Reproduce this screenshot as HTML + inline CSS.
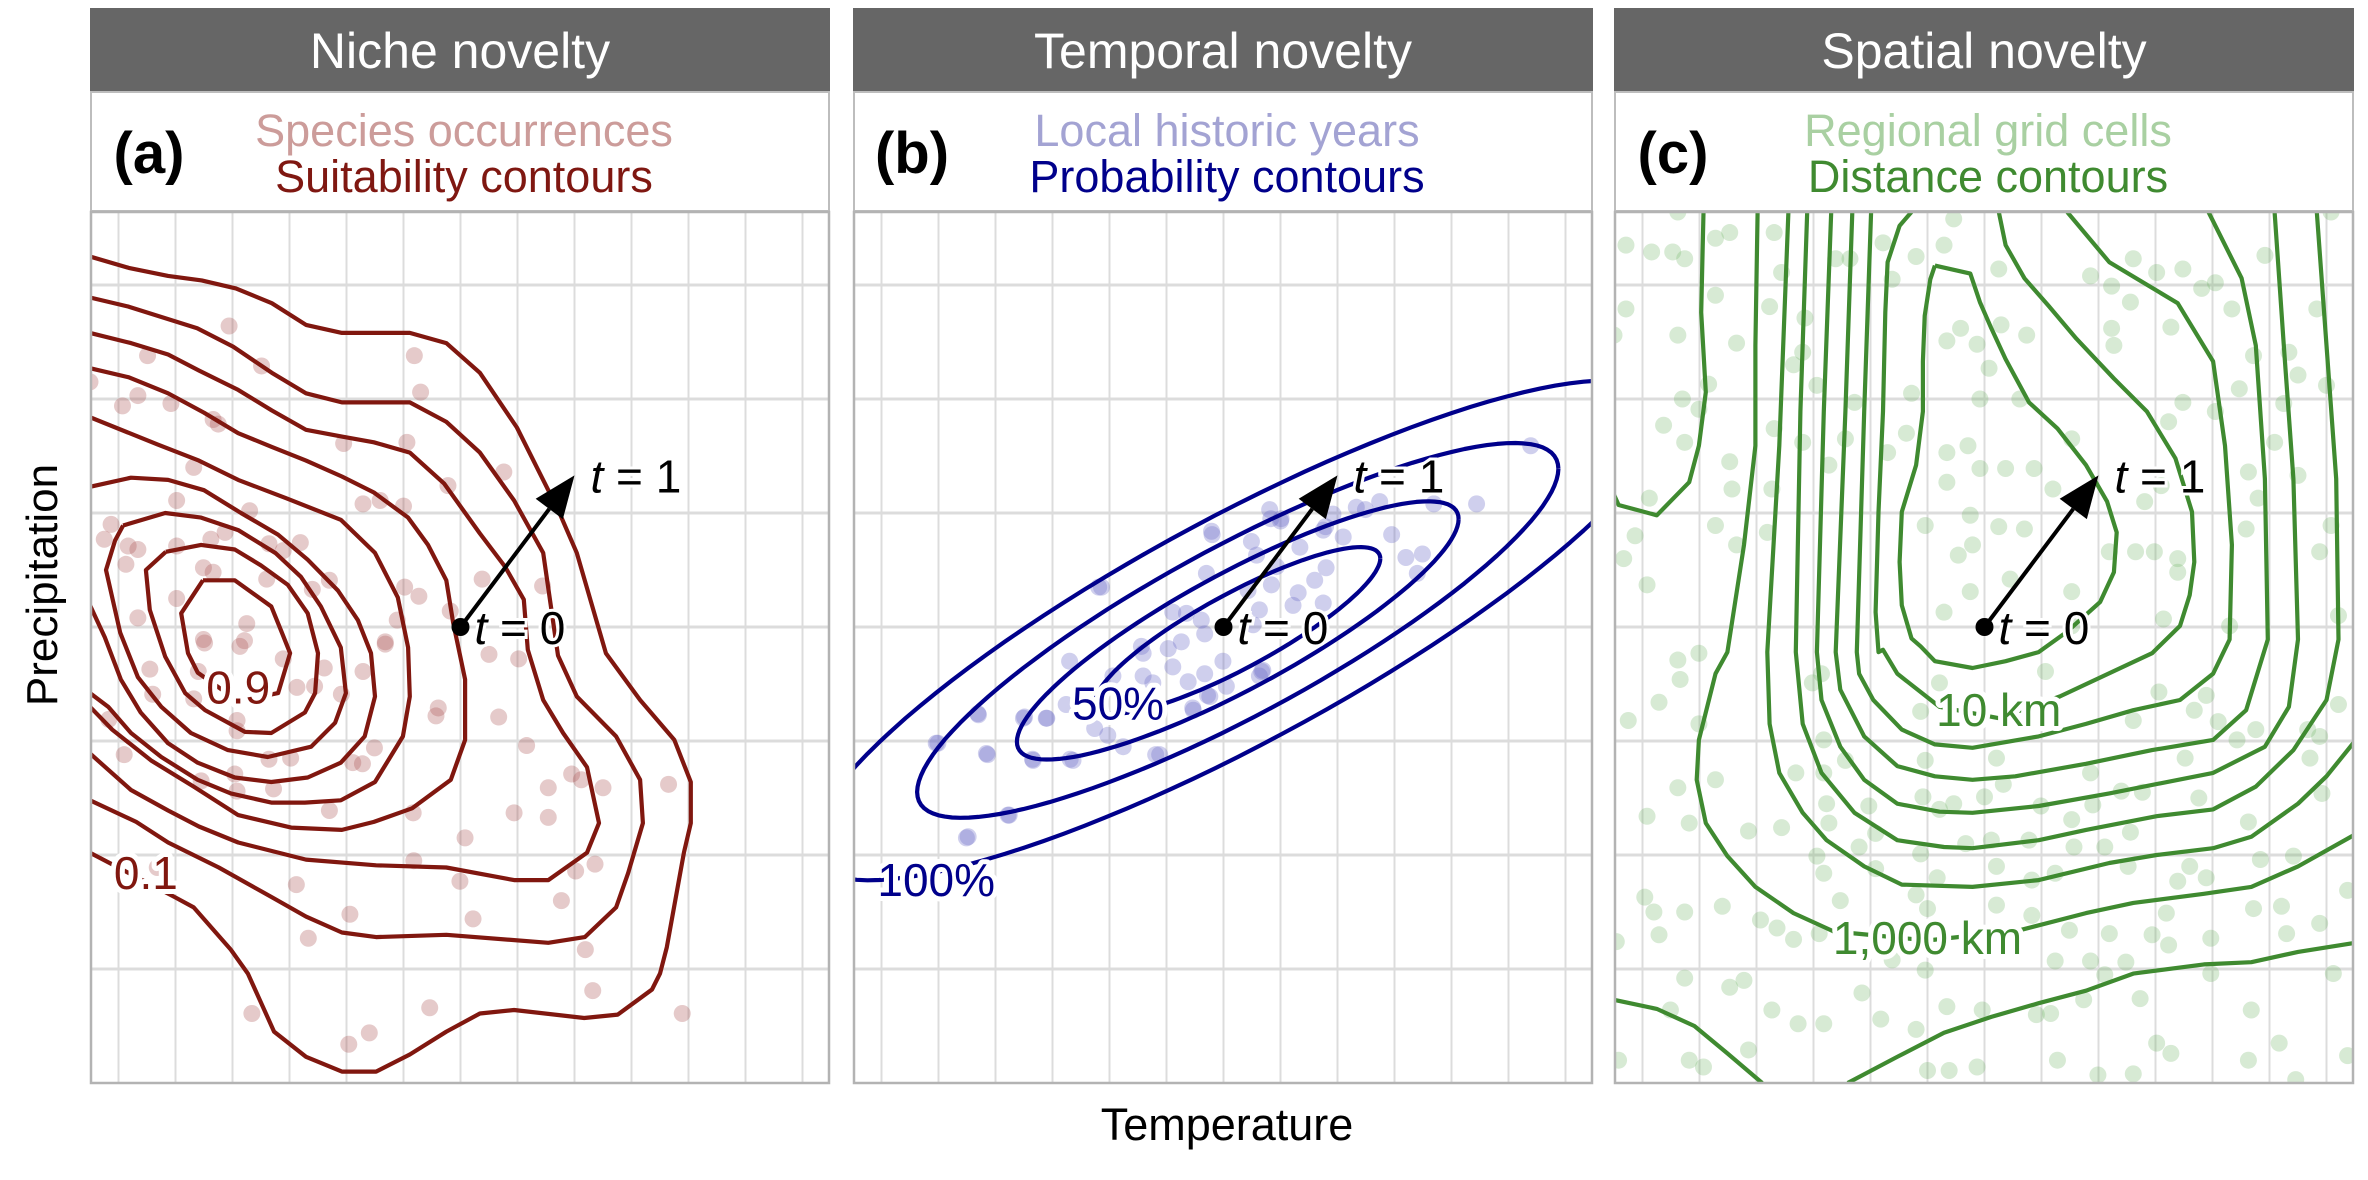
<!DOCTYPE html>
<html><head><meta charset="utf-8"><title>Niche, temporal and spatial novelty</title>
<style>
html,body{margin:0;padding:0;background:#fff;}
svg{display:block;font-family:"Liberation Sans",Arial,sans-serif;}
</style></head>
<body>
<svg id="fig" width="2368" height="1180" viewBox="0 0 2368 1180" xmlns="http://www.w3.org/2000/svg">
<text x="1227" y="1140" font-size="45" text-anchor="middle" fill="#000">Temperature</text>
<text transform="translate(57,585) rotate(-90)" font-size="44" text-anchor="middle" fill="#000">Precipitation</text>
</svg>
<script>
// ---------- Panel (a): niche novelty data ----------
const nicheLevels = ["0.1","0.2","0.3","0.4","0.5","0.6","0.7","0.8","0.9"];
const nicheC1 = [[0,7.25],[0.68,7.15],[1.37,7.08],[1.96,7.04],[2.56,6.97],[3.19,6.84],[3.79,6.65],[4.42,6.58],[5.61,6.58],[6.25,6.49],[6.84,6.23],[7.49,5.75],[7.86,5.38],[8.21,5.03],[8.54,4.65],[9.05,3.77],[9.65,3.36],[10.25,3.01],[10.54,2.64],[10.54,2.28],[10.42,2.02],[10.12,1.19],[10.0,0.96],[9.86,0.82],[9.26,0.60],[8.67,0.57],[7.44,0.64],[6.84,0.61],[6.25,0.45],[5.61,0.25],[5.02,0.10],[4.42,0.10],[3.79,0.23],[3.23,0.45],[2.77,0.96],[2.47,1.17],[1.82,1.54],[1.49,1.63],[0,2.02]];
const nicheC2 = [[0,6.89],[0.68,6.81],[1.88,6.62],[2.51,6.46],[3.19,6.23],[3.79,6.05],[4.42,5.97],[5.61,5.97],[6.25,5.80],[6.84,5.53],[7.44,5.11],[7.95,4.65],[8.21,3.75],[8.54,3.39],[9.23,3.04],[9.65,2.66],[9.70,2.28],[9.44,1.84],[9.23,1.54],[8.68,1.28],[8.04,1.23],[6.25,1.30],[5.02,1.28],[4.42,1.32],[3.79,1.46],[3.19,1.63],[2.26,1.89],[1.37,2.11],[0.81,2.29],[0,2.48]];
const nicheC3 = [[0,6.58],[0.72,6.49],[1.37,6.39],[1.91,6.25],[2.60,6.08],[3.19,5.90],[3.79,5.73],[4.42,5.67],[4.98,5.62],[5.61,5.53],[6.21,5.26],[6.84,4.82],[7.28,4.53],[7.61,4.24],[7.68,3.80],[7.95,3.36],[8.30,3.07],[8.72,2.77],[8.93,2.28],[8.72,2.02],[8.04,1.78],[7.44,1.78],[6.25,1.89],[5.02,1.91],[3.79,1.96],[2.60,2.11],[1.91,2.25],[1.37,2.39],[0.72,2.57],[0,2.89]];
const nicheC4 = [[0,6.27],[0.68,6.19],[1.37,6.05],[2.0,5.88],[2.60,5.70],[3.19,5.58],[3.79,5.46],[4.42,5.32],[4.98,5.18],[5.58,4.96],[5.93,4.72],[6.25,4.41],[6.37,4.04],[6.58,3.54],[6.58,3.01],[6.33,2.66],[5.65,2.41],[4.98,2.29],[4.42,2.22],[3.53,2.24],[2.60,2.35],[1.82,2.60],[1.07,2.83],[0.39,3.10],[0,3.30]];
const nicheC5 = [[0,5.84],[1.19,5.60],[1.91,5.46],[2.60,5.29],[3.44,5.13],[4.40,4.94],[5.0,4.65],[5.40,4.26],[5.58,3.82],[5.61,3.39],[5.49,3.04],[5.0,2.64],[4.40,2.48],[3.77,2.46],[3.18,2.46],[2.47,2.54],[1.89,2.66],[1.25,2.86],[0.72,3.07],[0.32,3.30],[0,3.42]];
const nicheC6 = [[0,5.23],[0.72,5.31],[1.37,5.29],[2.0,5.20],[2.65,5.0],[3.30,4.81],[3.82,4.59],[4.35,4.32],[4.70,4.06],[4.93,3.77],[5.0,3.39],[4.82,3.04],[4.40,2.81],[3.82,2.68],[3.18,2.64],[2.54,2.68],[1.89,2.81],[1.37,2.98],[0.89,3.25],[0.54,3.54],[0.26,3.91],[0,4.19]];
const nicheC7 = [[0.58,4.89],[1.32,5.0],[1.95,4.96],[2.60,4.85],[3.25,4.65],[3.70,4.44],[4.05,4.18],[4.40,3.82],[4.49,3.42],[4.30,3.16],[3.88,2.95],[3.12,2.86],[2.42,2.92],[1.77,3.07],[1.25,3.30],[0.84,3.56],[0.53,3.95],[0.28,4.50],[0.44,4.76],[0.58,4.89]];
const nicheC8 = [[1.33,4.66],[1.95,4.72],[2.54,4.68],[3.0,4.54],[3.47,4.37],[3.82,4.12],[4.0,3.77],[3.95,3.42],[3.77,3.25],[3.18,3.07],[2.72,3.08],[2.02,3.27],[1.67,3.42],[1.32,3.74],[1.05,4.15],[0.98,4.50],[1.33,4.66]];
const nicheC9 = [[1.98,4.41],[2.54,4.41],[3.18,4.18],[3.35,3.97],[3.51,3.77],[3.30,3.42],[2.6,3.35],[1.89,3.60],[1.72,3.77],[1.60,4.12],[1.98,4.41]];
const nicheLabelText = ["0.1","0.9"];
const nicheLabelX = [0.98,2.6];
const nicheLabelY = [1.84,3.47];
const nichePtsX = [2.44,5.69,1.01,3.01,5.80,0.84,0.57,1.42,2.16,2.25,4.45,5.56,1.82,7.26,6.28,4.79,5.09,5.5,1.52,2.80,0.37,0.25,0.67,0.84,0.63,2.12,2.37,1.52,3.14,3.39,3.69,1.99,2.16,3.10,4.20,3.90,5.52,5.77,6.88,7.94,1.52,0.84,0,2.75,5.39,6.32,5.18,1.99,2.71,2.01,2.63,3.39,4.11,4.79,5.18,7.0,7.52,1.05,1.90,1.10,1.82,2.58,2.58,3.63,3.94,4.41,6.11,6.07,7.17,0.33,0.60,4.99,4.78,4.61,3.52,3.14,1.95,2.54,3.22,2.58,4.20,5.67,7.66,8.45,8.62,8.04,9.0,10.15,7.44,8.04,6.58,5.68,8.86,8.52,6.49,3.62,8.27,1.18,4.56,6.72,3.83,8.69,8.82,10.39,5.96,2.84,4.90,4.54];
const nichePtsY = [6.64,6.38,6.38,6.29,6.06,6.03,5.94,5.96,5.82,5.78,5.61,5.62,5.40,5.36,5.24,5.08,5.11,5.06,5.11,5.02,4.90,4.77,4.71,4.68,4.55,4.77,4.83,4.71,4.73,4.67,4.74,4.52,4.48,4.42,4.41,4.33,4.35,4.27,4.42,4.36,4.25,4.08,6.15,4.03,4.06,4.14,3.87,3.89,3.88,3.86,3.83,3.72,3.64,3.61,3.85,3.76,3.72,3.63,3.61,3.41,3.37,3.18,3.09,3.47,3.48,3.41,3.29,3.22,3.21,3.19,2.88,2.94,2.80,2.81,2.85,2.84,2.65,2.71,2.58,2.56,2.39,2.37,2.96,2.71,2.66,2.59,2.59,2.62,2.37,2.33,2.15,1.95,1.92,1.86,1.77,1.74,1.60,1.89,1.48,1.44,1.27,1.17,0.81,0.61,0.66,0.61,0.44,0.34];

// ---------- Panel (b): temporal novelty data ----------
const probLevels = ["50%","75%","90%","100%"];
const probRadii = [1,1.55,2.25,3.0];
const probCenter = [6.75,3.97];
const probAxisU = [2.5,0.63];
const probAxisV = [0,0.37];
const probLabelText = ["50%","100%"];
const probLabelX = [4.65,1.46];
const probLabelY = [3.33,1.78];
const yearPtsX = [4.36,6.29,6.20,6.99,7.08,7.31,7.51,7.43,7.34,6.93,7.84,8.30,8.10,7.81,7.72,8.25,8.42,8.25,8.60,7.02,7.13,5.61,5.85,6.11,6.17,5.76,5.53,5.06,5.09,6.49,5.61,6.17,5.88,6.55,6.26,5.96,7.19,3.80,4.56,5.09,5.26,3.74,3.39,3.01,2.19,1.46,2.34,3.16,3.86,4.24,4.47,4.74,5.38,2.72,2.02,11.89,10.94,10.19,9.70,9.99,9.90,9.45,9.24,8.99,8.83,8.29,7.33,7.50,6.30,7.17,7.13,6.22,5.97,5.31,4.31,2.74,1.99,1.49,2.20,2.36,2.99,3.40,3.81,3.15];
const yearPtsY = [4.35,4.84,4.47,4.75,4.63,5.03,4.95,4.53,4.37,4.32,4.70,4.52,4.41,4.30,4.19,4.21,4.99,4.85,4.79,4.02,4.15,4.13,4.12,4.06,3.94,3.87,3.81,3.83,3.77,3.70,3.65,3.59,3.52,3.48,3.39,3.29,3.62,3.70,3.57,3.57,3.51,3.32,3.20,3.21,3.24,2.98,2.89,2.83,2.83,3.11,3.05,2.95,2.88,2.35,2.16,5.59,5.08,5.08,4.61,4.64,4.47,4.81,5.10,5.03,5.05,4.88,4.95,4.93,4.81,3.61,3.57,3.40,3.27,2.88,4.35,2.35,2.15,2.98,3.23,2.88,3.20,3.20,2.84,2.84];

// ---------- Panel (c): spatial novelty data ----------
const distK0 = [[1.57,7.64],[1.53,6.76],[1.61,6.06],[1.49,5.59],[1.32,5.27],[0.75,4.98],[0.08,5.07],[0,5.16]];
const distK1 = [[5.63,7.17],[6.25,7.10],[6.42,6.85],[6.62,6.62],[6.87,6.35],[7.28,5.97],[7.78,5.74],[8.28,5.42],[8.65,5.10],[8.82,4.83],[8.77,4.48],[8.53,4.22],[7.95,3.96],[7.45,3.78],[6.87,3.70],[6.29,3.64],[5.63,3.70],[5.38,3.83],[5.22,3.90],[5.05,4.19],[5.01,4.57],[5.05,5.01],[5.30,5.42],[5.42,5.89],[5.42,6.33],[5.45,6.73],[5.55,7.05],[5.63,7.17]];
const distK2 = [[5.22,7.64],[5.01,7.52],[4.80,7.20],[4.76,6.76],[4.72,5.89],[4.64,5.01],[4.59,4.13],[4.64,3.78],[4.72,3.80],[4.97,3.59],[5.71,3.30],[6.75,3.20],[7.82,3.39],[9.44,3.77],[9.93,4.01],[10.10,4.28],[10.18,4.57],[10.14,5.01],[9.85,5.48],[9.35,5.89],[8.77,6.18],[8.11,6.53],[7.62,6.82],[7.20,7.06],[6.87,7.35],[6.75,7.64]];
const distK3 = [[4.51,7.64],[4.39,5.89],[4.26,3.78],[4.30,3.59],[4.55,3.36],[5.05,3.10],[5.63,2.97],[6.29,2.94],[7.45,3.04],[8.28,3.15],[9.11,3.27],[9.93,3.36],[10.51,3.59],[10.80,3.89],[10.84,4.72],[10.72,5.59],[10.51,6.33],[9.89,6.84],[8.69,7.20],[7.95,7.64]];
const distK4 = [[4.18,7.64],[4.06,5.89],[3.89,3.78],[3.97,3.45],[4.39,3.04],[4.97,2.78],[5.63,2.69],[6.29,2.66],[7.04,2.69],[8.28,2.80],[9.44,2.92],[10.51,3.01],[11.09,3.27],[11.47,3.89],[11.42,5.30],[11.26,6.47],[11.01,7.06],[10.43,7.64]];
const distK5 = [[3.81,7.64],[3.68,5.89],[3.56,3.78],[3.64,3.36],[3.97,2.95],[4.39,2.66],[4.97,2.45],[5.71,2.38],[6.29,2.37],[7.45,2.43],[8.69,2.54],[10.51,2.72],[11.42,2.95],[11.84,3.30],[12.0,3.89],[11.92,5.30],[11.75,6.47],[11.59,7.64]];
const distK6 = [[3.39,7.64],[3.27,5.89],[3.19,3.78],[3.31,3.15],[3.64,2.72],[4.22,2.37],[4.97,2.13],[5.79,2.07],[6.29,2.06],[7.45,2.13],[8.28,2.22],[9.52,2.34],[10.51,2.40],[11.26,2.60],[11.92,2.92],[12.5,3.36],[12.71,3.89],[12.67,5.30],[12.5,6.47],[12.33,7.64]];
const distK7 = [[3.06,7.64],[2.90,5.59],[2.69,3.78],[2.73,3.15],[2.90,2.72],[3.31,2.37],[3.73,2.13],[4.39,1.90],[5.05,1.74],[6.29,1.72],[7.45,1.78],[8.69,1.93],[9.52,2.00],[10.51,2.06],[11.18,2.16],[12.0,2.45],[12.5,2.69],[13.0,3.0]];
const distK8 = [[2.52,7.64],[2.48,6.47],[2.48,5.59],[2.28,4.72],[1.99,3.78],[1.78,3.59],[1.49,3.01],[1.45,2.66],[1.61,2.28],[1.99,1.99],[2.48,1.72],[3.15,1.49],[3.85,1.33],[5.5,1.25],[7.12,1.34],[8.28,1.49],[9.11,1.58],[10.35,1.66],[11.18,1.72],[12.0,1.90],[13.0,2.18]];
const distK9 = [[0,0.73],[0.75,0.65],[1.41,0.50],[1.99,0.26],[2.6,0]];
const distK10 = [[4.1,0],[4.97,0.23],[5.79,0.44],[6.62,0.58],[7.45,0.70],[8.28,0.81],[9.11,0.96],[10.35,1.04],[11.18,1.06],[12.0,1.15],[13.0,1.23]];
const distLabelText = ["10 km","1,000 km"];
const distLabelX = [6.75,5.5];
const distLabelY = [3.27,1.27];
const cellPtsX = [0.21,0.66,1.03,1.24,1.78,2.03,1.12,0.21,1.78,1.12,2.15,0,1.66,1.20,1.49,0.87,1.24,0.62,0.37,0.17,0.58,1.78,2.15,2.03,2.07,2.81,2.94,2.73,3.35,3.15,3.31,3.56,2.81,2.77,2.69,3.31,3.77,4.06,4.22,4.14,3.89,4.72,4.88,5.22,5.13,4.80,5.30,5.79,5.96,6.75,6.08,5.84,6.37,6.79,7.24,6.58,6.42,7.12,8.03,6.21,5.84,6.87,6.42,7.37,7.70,5.84,6.25,6.75,7.20,6.29,6.04,5.46,5.79,6.25,6.95,8.03,8.36,8.73,9.11,9.52,9.98,9.06,8.73,8.77,9.77,10.31,10.55,10.84,11.42,12.33,12.58,11.84,11.22,12.0,10.97,10.55,9.98,9.73,11.75,12.5,11.59,11.13,12.0,11.30,9.31,9.60,11.09,12.58,12.38,9.15,9.48,9.89,9.89,8.69,9.64,10.80,12.71,8.03,
1.12,1.49,1.16,0.79,0.25,1.49,1.12,1.78,0.58,1.32,2.36,2.94,3.19,3.68,3.68,3.48,3.64,3.73,3.77,4.06,4.47,4.59,4.30,3.56,3.68,4.59,5.46,5.42,5.71,5.38,5.96,5.71,6.50,6.71,6.83,7.57,7.49,7.28,6.62,6.17,5.38,5.67,6.71,7.33,7.74,8.03,8.36,8.40,8.61,8.07,8.90,9.27,9.06,9.02,9.11,9.56,10.18,10.39,10.60,10.02,10.26,10.93,11.26,11.13,11.34,11.92,12.17,12.38,12.21,12.42,12.71,10.10,9.89,10.39,9.69,11.22,11.71,12.38,11.80,12.87,8.69,9.44,9.73,10.47,7.99,7.33,6.71,5.30,5.50,3.97,2.57,2.86,3.15,3.60,1.90,1.24,0.70,0.54,0.79,0.04,1.24,2.03,2.28,0.99,2.77,3.23,3.68,4.35,4.68,5.30,5.84,6.46,7.41,7.66,8.24,9.23,11.18,8.61,8.98,8.36,7.74,5.46,4.88,10.47,12.62,9.52,9.77,11.13,11.67,11.96,2.36,1.32,1.57,0.08,5.50,5.88,6.37,7.78,8.49,9.11,12.87];
const cellPtsY = [7.35,7.29,7.29,7.23,7.41,7.46,7.64,6.79,6.91,6.56,6.49,6.56,6.13,6.00,5.91,5.77,5.62,5.13,4.80,4.60,4.37,4.89,4.72,5.45,5.21,7.46,7.11,6.81,6.71,6.30,6.41,6.12,5.74,5.21,4.83,5.62,5.42,5.65,5.97,7.23,7.23,7.37,7.05,6.05,5.70,5.53,7.25,7.35,7.58,7.14,6.62,6.51,6.48,6.65,6.56,6.27,6.00,6.00,5.65,5.59,5.53,5.39,5.39,5.39,5.21,5.27,4.98,4.88,4.86,4.72,4.63,4.89,4.13,4.31,4.42,4.31,7.08,6.99,7.23,7.11,7.14,6.85,6.62,6.47,6.63,6.97,7.02,6.79,7.26,6.79,7.64,6.41,6.38,6.21,6.09,5.89,5.97,5.80,5.96,6.12,5.62,5.36,5.33,5.13,5.10,5.24,4.86,4.89,4.66,4.66,4.66,4.60,4.48,4.66,4.07,4.01,4.10,4.01,
3.71,3.77,3.54,3.34,3.18,3.15,2.59,2.66,2.34,2.28,2.21,2.24,2.72,3.01,2.72,3.51,3.59,2.45,2.28,2.83,2.43,2.19,2.07,1.99,1.84,1.88,2.83,2.51,3.51,3.26,2.45,2.40,2.51,2.85,2.62,3.61,2.43,2.13,2.13,2.10,2.01,1.80,1.90,1.78,1.84,2.31,2.72,2.44,2.07,2.07,2.56,2.55,2.20,1.90,3.18,3.43,3.27,3.40,3.17,2.85,2.50,3.01,3.10,2.29,1.96,1.99,3.10,3.04,2.85,2.54,3.32,1.90,1.77,1.80,1.49,1.53,1.55,1.40,1.31,1.69,1.31,1.30,1.21,1.27,1.34,1.47,1.56,1.65,1.53,1.60,1.43,1.36,1.26,1.31,1.55,1.50,1.50,1.63,1.30,1.24,0.92,0.84,0.90,0.64,0.64,0.52,0.52,0.79,0.56,0.47,0.67,0.64,0.60,0.61,0.73,0.74,0.64,0.95,1.06,1.07,1.07,0.99,1.08,0.96,0.96,0.35,0.26,0.20,0.35,0.03,0.29,0.20,0.14,0.20,0.11,0.11,0.14,0.20,0.07,0.08,0.24];

// ---------- Shared: trajectory ----------
const trajStart = [6.5,4.0];
const trajEnd = [8.5,5.33];

// ---------- Drawing ----------
const NS = "http://www.w3.org/2000/svg";
const svg = document.getElementById('fig');
const TOP = 212, BOT = 1083, W = 740, UX = 57, UY = 114;
function mk(tag, attrs, parent) {
  const e = document.createElementNS(NS, tag);
  for (const k in attrs) e.setAttribute(k, attrs[k]);
  (parent || svg).appendChild(e);
  return e;
}
function scales(left) {
  return { x: d => left + d * UX, y: d => BOT - d * UY };
}
function pathFrom(pts, s) {
  return pts.map((p, i) => (i ? 'L' : 'M') + s.x(p[0]).toFixed(1) + ',' + s.y(p[1]).toFixed(1)).join('');
}

const panels = [
  { key: 'niche', left: 90, title: 'Niche novelty', tag: '(a)', l1: 'Species occurrences', l1c: '#cc9c9a', l2: 'Suitability contours', l2c: '#7f1711' },
  { key: 'temporal', left: 853, title: 'Temporal novelty', tag: '(b)', l1: 'Local historic years', l1c: '#a3a3d3', l2: 'Probability contours', l2c: '#00008b' },
  { key: 'spatial', left: 1614, title: 'Spatial novelty', tag: '(c)', l1: 'Regional grid cells', l1c: '#a9d0a2', l2: 'Distance contours', l2c: '#3f8a30' }
];

panels.forEach((P, pi) => {
  const g = mk('g', {});
  
  
  const s = scales(P.left);
  const strip = mk('rect', { x: P.left, y: 8, width: W, height: 83, fill: '#666666' }, g);
  
  
  const st = mk('text', { x: P.left + W / 2, y: 68, 'font-size': 50, fill: '#fff', 'text-anchor': 'middle' }, g);
  st.textContent = P.title;
  
  
  const lb = mk('rect', { x: P.left + 1, y: 92, width: W - 2, height: 119, fill: '#fff', stroke: '#bdbdbd', 'stroke-width': 2 }, g);
  
  
  const tg = mk('text', { x: P.left + 59, y: 173, 'font-size': 58, 'font-weight': 'bold', fill: '#000', 'text-anchor': 'middle' }, g);
  tg.textContent = P.tag;
  
  
  const t1 = mk('text', { x: P.left + 374, y: 146, 'font-size': 45, fill: P.l1c, 'text-anchor': 'middle' }, g);
  t1.textContent = P.l1;
  
  
  const t2 = mk('text', { x: P.left + 374, y: 192, 'font-size': 45, fill: P.l2c, 'text-anchor': 'middle' }, g);
  t2.textContent = P.l2;
  
  
  const cp = mk('clipPath', { id: 'clip' + pi }, g);
  mk('rect', { x: P.left, y: TOP, width: W, height: BOT - TOP }, cp);
  const plot = mk('g', { 'clip-path': 'url(#clip' + pi + ')' }, g);
  
  
  for (let k = 0; k < 13; k++) {
    const xv = s.x(k + 0.5);
    const gl = mk('line', { x1: xv, x2: xv, y1: TOP, y2: BOT, stroke: '#dcdcdc', 'stroke-width': 2 }, plot);
    
    
  }
  for (let k = 1; k <= 7; k++) {
    const yv = s.y(k);
    const gl = mk('line', { x1: P.left, x2: P.left + W, y1: yv, y2: yv, stroke: '#dcdcdc', 'stroke-width': 3 }, plot);
    
    
  }
  P.s = s; P.plot = plot; P.g = g;
});

function drawPoints(P, xs, ys, fill, name) {
  for (let i = 0; i < Math.min(xs.length, ys.length); i++) {
    const c = mk('circle', { cx: P.s.x(xs[i]), cy: P.s.y(ys[i]), r: 8.5, fill: fill }, P.plot);
    
    
  }
}
function drawLine(P, pts, color, name) {
  const p = mk('path', { d: pathFrom(pts, P.s), fill: 'none', stroke: color, 'stroke-width': 4.2, 'stroke-linejoin': 'round' }, P.plot);
  
  
}
function drawLabel(P, txt, x, y, color, name) {
  const t = mk('text', { x: P.s.x(x), y: P.s.y(y) + 16, 'font-size': 46, fill: color, 'text-anchor': 'middle', stroke: '#fff', 'stroke-width': 10, 'paint-order': 'stroke', 'stroke-linejoin': 'round' }, P.plot);
  t.textContent = txt;
  
  
}

const A = panels[0];
drawPoints(A, nichePtsX, nichePtsY, 'rgba(170,80,80,0.3)', 'species-occurrence');
[nicheC1, nicheC2, nicheC3, nicheC4, nicheC5, nicheC6, nicheC7, nicheC8, nicheC9].forEach((c, i) => {
  drawLine(A, c, '#80170f', 'suitability-contour-' + nicheLevels[i]);
});
nicheLabelText.forEach((t, i) => drawLabel(A, t, nicheLabelX[i], nicheLabelY[i], '#80170f', 'suitability-label'));

const B = panels[1];
drawPoints(B, yearPtsX, yearPtsY, 'rgba(110,110,200,0.33)', 'historic-year');
probRadii.forEach((r, i) => {
  const pts = [];
  for (let k = 0; k <= 120; k++) {
    const th = k / 120 * 2 * Math.PI;
    pts.push([probCenter[0] + r * (probAxisU[0] * Math.cos(th) + probAxisV[0] * Math.sin(th)),
              probCenter[1] + r * (probAxisU[1] * Math.cos(th) + probAxisV[1] * Math.sin(th))]);
  }
  drawLine(B, pts, '#00008b', 'probability-contour-' + probLevels[i]);
});
probLabelText.forEach((t, i) => drawLabel(B, t, probLabelX[i], probLabelY[i], '#00008b', 'probability-label'));

const C = panels[2];
drawPoints(C, cellPtsX, cellPtsY, 'rgba(110,180,100,0.28)', 'grid-cell');
[distK0, distK1, distK2, distK3, distK4, distK5, distK6, distK7, distK8, distK9, distK10].forEach((c, i) => {
  drawLine(C, c, '#3f8a30', 'distance-contour-' + i);
});
distLabelText.forEach((t, i) => drawLabel(C, t, distLabelX[i], distLabelY[i], '#3f8a30', 'distance-label'));

panels.forEach(P => {
  const s = P.s;
  const x0 = s.x(trajStart[0]), y0 = s.y(trajStart[1]), x1 = s.x(trajEnd[0]), y1 = s.y(trajEnd[1]);
  const ang = Math.atan2(y1 - y0, x1 - x0), L = 42, Wd = 17;
  const bx = x1 - L * Math.cos(ang), by = y1 - L * Math.sin(ang);
  const ln = mk('line', { x1: x0, y1: y0, x2: bx, y2: by, stroke: '#000', 'stroke-width': 4 }, P.g);
  
  
  const hd = mk('polygon', { points: [x1, y1, bx + Wd * Math.sin(ang), by - Wd * Math.cos(ang), bx - Wd * Math.sin(ang), by + Wd * Math.cos(ang)].join(','), fill: '#000' }, P.g);
  
  
  const dot = mk('circle', { cx: x0, cy: y0, r: 9, fill: '#000' }, P.g);
  
  
  const l0 = mk('text', { x: x0 + 14, y: y0 + 17, 'font-size': 46, fill: '#000', stroke: '#fff', 'stroke-width': 6, 'paint-order': 'stroke' }, P.g);
  l0.innerHTML = '<tspan font-style="italic">t</tspan> = 0';
  
  
  const l1 = mk('text', { x: x1 + 16, y: y1 + 17, 'font-size': 46, fill: '#000', stroke: '#fff', 'stroke-width': 6, 'paint-order': 'stroke' }, P.g);
  l1.innerHTML = '<tspan font-style="italic">t</tspan> = 1';
  
  
  const bd = mk('rect', { x: P.left + 1, y: TOP, width: W - 2, height: BOT - TOP, fill: 'none', stroke: '#b3b3b3', 'stroke-width': 2.5 }, P.g);
  
  
});
</script>
</body></html>
